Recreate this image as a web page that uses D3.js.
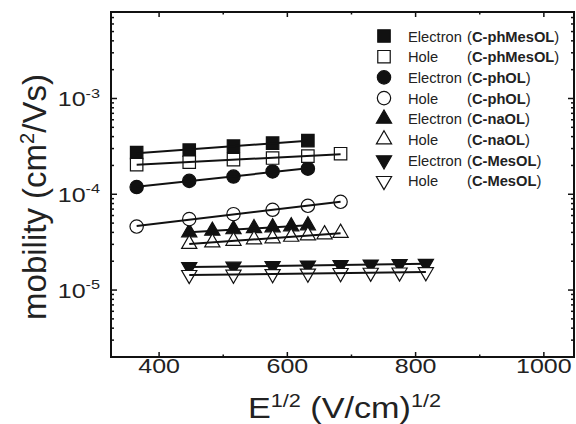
<!DOCTYPE html>
<html>
<head>
<meta charset="utf-8">
<script src="https://cdn.jsdelivr.net/npm/d3@7"></script>
<style>
  body { margin: 0; background: #fff; }
  svg { font-family: "Liberation Sans", Arial, sans-serif; }
</style>
</head>
<body>
<svg id="chart" width="576" height="424"></svg>
<script>
// E^1/2 values, (V/cm)^1/2
const fieldA = [365, 447, 516, 577, 632];
const fieldB = [365, 447, 516, 577, 632, 683];
const fieldC = [447, 483, 516, 548, 577, 606, 632];
const fieldD = [447, 483, 516, 548, 577, 606, 632, 658, 683];
const fieldE = [447, 516, 577, 632, 683, 730, 775, 816];

// mobilities, cm2/Vs
const phMesOLElectron = [2.72e-4, 2.89e-4, 3.18e-4, 3.42e-4, 3.63e-4];
const phMesOLHole = [2.04e-4, 2.16e-4, 2.30e-4, 2.39e-4, 2.50e-4, 2.65e-4];
const phOLElectron = [1.19e-4, 1.38e-4, 1.53e-4, 1.73e-4, 1.85e-4];
const phOLHole = [4.60e-5, 5.50e-5, 6.20e-5, 6.89e-5, 7.58e-5, 8.34e-5];
const naOLElectron = [4.00e-5, 4.15e-5, 4.30e-5, 4.41e-5, 4.51e-5, 4.62e-5, 4.73e-5];
const naOLHole = [3.03e-5, 3.14e-5, 3.26e-5, 3.38e-5, 3.46e-5, 3.59e-5, 3.72e-5, 3.81e-5, 3.95e-5];
const mesOLElectron = [1.74e-5, 1.76e-5, 1.78e-5, 1.81e-5, 1.83e-5, 1.85e-5, 1.87e-5, 1.88e-5];
const mesOLHole = [1.44e-5, 1.45e-5, 1.47e-5, 1.49e-5, 1.51e-5, 1.52e-5, 1.53e-5, 1.54e-5];

const xTicks = [400, 600, 800, 1000];
const xMinorTicks = [500, 700, 900];
const yTickExps = [-5, -4, -3];

const series = [
  { carrier: "Electron", compound: "C-phMesOL", shape: "square", filled: true, x: fieldA, y: phMesOLElectron },
  { carrier: "Hole", compound: "C-phMesOL", shape: "square", filled: false, x: fieldB, y: phMesOLHole },
  { carrier: "Electron", compound: "C-phOL", shape: "circle", filled: true, x: fieldA, y: phOLElectron },
  { carrier: "Hole", compound: "C-phOL", shape: "circle", filled: false, x: fieldB, y: phOLHole },
  { carrier: "Electron", compound: "C-naOL", shape: "up", filled: true, x: fieldC, y: naOLElectron },
  { carrier: "Hole", compound: "C-naOL", shape: "up", filled: false, x: fieldD, y: naOLHole },
  { carrier: "Electron", compound: "C-MesOL", shape: "down", filled: true, x: fieldE, y: mesOLElectron },
  { carrier: "Hole", compound: "C-MesOL", shape: "down", filled: false, x: fieldE, y: mesOLHole }
];

const width = 576, height = 424;
const margin = { top: 12, right: 2, bottom: 67, left: 111 };
const tickStretch = 1.25;

const svg = d3.select("#chart");

const x = d3.scaleLinear().domain([325, 1047]).range([margin.left, width - margin.right]);
const y = d3.scaleLog().domain([2e-6, 8e-3]).range([height - margin.bottom, margin.top]);

const symbolOf = {
  square: { type: d3.symbolSquare, size: 155, rot: 0 },
  circle: { type: d3.symbolCircle, size: 140, rot: 0 },
  up: { type: d3.symbolTriangle, size: 100, rot: 0 },
  down: { type: d3.symbolTriangle, size: 100, rot: 180 }
};
function markerPath(s) {
  return d3.symbol().type(symbolOf[s].type).size(symbolOf[s].size)();
}

// minor log ticks
const yMinor = [];
for (let e = -6; e <= -3; e++) {
  for (let m = 2; m <= 9; m++) {
    const v = m * Math.pow(10, e);
    if (v >= y.domain()[0] && v <= y.domain()[1]) yMinor.push(v);
  }
}
const yMajor = yTickExps.map(e => Math.pow(10, e));

const x0 = margin.left, x1 = width - margin.right;
const y0 = height - margin.bottom, y1 = margin.top;

const ticks = svg.append("g").attr("stroke", "#111").attr("stroke-width", 1.5);
// x ticks bottom & top
xTicks.forEach(v => {
  ticks.append("line").attr("x1", x(v)).attr("x2", x(v)).attr("y1", y0).attr("y2", y0 - 5);
  ticks.append("line").attr("x1", x(v)).attr("x2", x(v)).attr("y1", y1).attr("y2", y1 + 5);
});
xMinorTicks.forEach(v => {
  ticks.append("line").attr("x1", x(v)).attr("x2", x(v)).attr("y1", y0).attr("y2", y0 - 2.5);
  ticks.append("line").attr("x1", x(v)).attr("x2", x(v)).attr("y1", y1).attr("y2", y1 + 2.5);
});
yMajor.forEach(v => {
  ticks.append("line").attr("x1", x0).attr("x2", x0 + 6).attr("y1", y(v)).attr("y2", y(v));
  ticks.append("line").attr("x1", x1).attr("x2", x1 - 6).attr("y1", y(v)).attr("y2", y(v));
});
yMinor.forEach(v => {
  ticks.append("line").attr("x1", x0).attr("x2", x0 + 3).attr("y1", y(v)).attr("y2", y(v));
  ticks.append("line").attr("x1", x1).attr("x2", x1 - 3).attr("y1", y(v)).attr("y2", y(v));
});

// frame
svg.append("rect")
  .attr("x", x0).attr("y", y1)
  .attr("width", x1 - x0).attr("height", y0 - y1)
  .attr("fill", "none").attr("stroke", "#111").attr("stroke-width", 2);

// tick labels
xTicks.forEach(v => {
  svg.append("text")
    .attr("transform", `translate(${x(v)},${y0 + 16}) scale(${tickStretch},1)`)
    .attr("text-anchor", "middle")
    .attr("font-size", 20)
    .attr("fill", "#222")
    .text(v);
});
yTickExps.forEach(e => {
  const t = svg.append("text")
    .attr("transform", `translate(${x0 - 11},${y(Math.pow(10, e)) + 8}) scale(${tickStretch},1)`)
    .attr("text-anchor", "end")
    .attr("font-size", 20)
    .attr("fill", "#222");
  t.append("tspan").text("10");
  t.append("tspan").attr("dy", -9).attr("font-size", 13).text(e);
});

// axis titles
const xt = svg.append("text")
  .attr("transform", `translate(${(x0 + x1) / 2 + 2},${height - 6}) scale(1.14,1)`)
  .attr("text-anchor", "middle")
  .attr("font-size", 30)
  .attr("fill", "#222");
xt.append("tspan").text("E");
xt.append("tspan").attr("dy", -11).attr("font-size", 19).text("1/2");
xt.append("tspan").attr("dy", 11).text(" (V/cm)");
xt.append("tspan").attr("dy", -11).attr("font-size", 19).text("1/2");

const yt = svg.append("text")
  .attr("transform", `translate(46,197) rotate(-90)`)
  .attr("text-anchor", "middle")
  .attr("font-size", 33)
  .attr("fill", "#222");
yt.append("tspan").text("mobility (cm");
yt.append("tspan").attr("dy", -12).attr("font-size", 20).text("2");
yt.append("tspan").attr("dy", 12).text("/Vs)");

// markers: electrons first, holes (white filled) on top
const plot = svg.append("g");
const ordered = series.filter(s => s.filled).concat(series.filter(s => !s.filled));
ordered.forEach(s => {
  plot.append("g").selectAll("path")
    .data(s.x.map((v, i) => [v, s.y[i]]))
    .join("path")
    .attr("d", markerPath(s.shape))
    .attr("transform", d => `translate(${x(d[0])},${y(d[1])}) rotate(${symbolOf[s.shape].rot})`)
    .attr("fill", s.filled ? "#111" : "#fff")
    .attr("stroke", "#111")
    .attr("stroke-width", 1.2);
});

// linear fits of log(mobility) vs E^1/2
series.forEach(s => {
  const ly = s.y.map(Math.log10);
  const mx = d3.mean(s.x), my = d3.mean(ly);
  const slope = d3.sum(s.x, (v, i) => (v - mx) * (ly[i] - my)) / d3.sum(s.x, v => (v - mx) ** 2);
  const fit = v => Math.pow(10, my + slope * (v - mx));
  const ends = d3.extent(s.x);
  plot.append("line")
    .attr("x1", x(ends[0])).attr("y1", y(fit(ends[0])))
    .attr("x2", x(ends[1])).attr("y2", y(fit(ends[1])))
    .attr("stroke", "#111").attr("stroke-width", 2);
});

// legend
const legend = svg.append("g").attr("font-size", 14.7).attr("fill", "#222");
series.forEach((s, i) => {
  const ly = 36 + i * 20.7;
  legend.append("path")
    .attr("d", markerPath(s.shape))
    .attr("transform", `translate(384,${ly}) rotate(${symbolOf[s.shape].rot})`)
    .attr("fill", s.filled ? "#111" : "#fff")
    .attr("stroke", "#111")
    .attr("stroke-width", 1.2);
  legend.append("text").attr("x", 408).attr("y", ly + 5.5).text(s.carrier);
  const c = legend.append("text").attr("x", 467).attr("y", ly + 5.5);
  c.append("tspan").text("(");
  c.append("tspan").attr("font-weight", "bold").text(s.compound);
  c.append("tspan").text(")");
});
</script>
</body>
</html>
